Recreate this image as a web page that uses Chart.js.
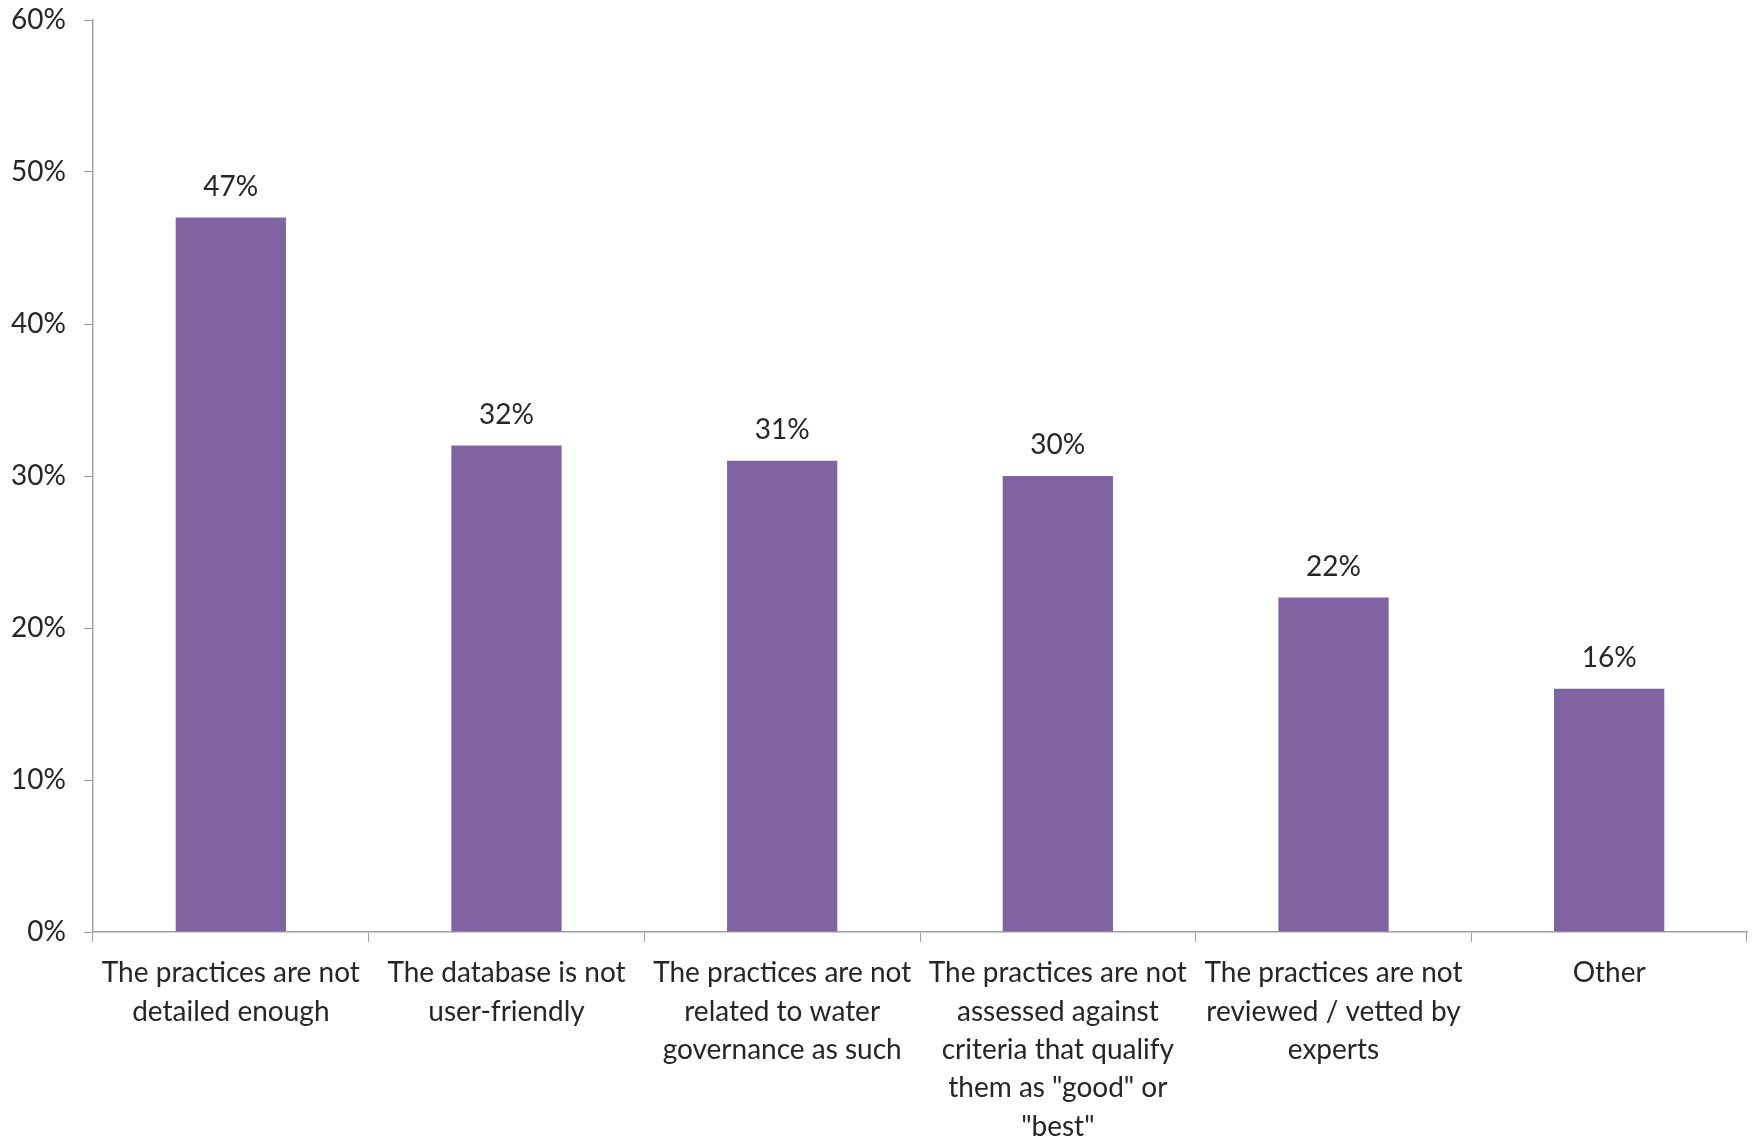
<!DOCTYPE html>
<html>
<head>
<meta charset="utf-8">
<script src="https://cdn.jsdelivr.net/npm/chart.js@4.4.1/dist/chart.umd.min.js"></script>
<style>
    html, body { margin: 0; padding: 0; background: #fff; }
    #wrap { width: 1752px; height: 1138px; }
</style>
</head>
<body>
<div id="wrap"><canvas id="chart" width="1752" height="1138"></canvas></div>
<script>
// Reasons respondents gave (multi-line labels as in the original)
const categories = [
    ['The practices are not', 'detailed enough'],
    ['The database is not', 'user-friendly'],
    ['The practices are not', 'related to water', 'governance as such'],
    ['The practices are not', 'assessed against', 'criteria that qualify', 'them as "good" or', '"best"'],
    ['The practices are not', 'reviewed / vetted by', 'experts'],
    ['Other']
];
const shares = [47, 32, 31, 30, 22, 16];
const yTicks = [0, 10, 20, 30, 40, 50, 60];

const FONT = 'Lato, "Open Sans", sans-serif';
const TEXT = '#262626';
const AXIS = '#a0a0a0';

// draws the value above each bar
const valueLabels = {
    id: 'valueLabels',
    afterDatasetsDraw(chart) {
        const ctx = chart.ctx;
        const meta = chart.getDatasetMeta(0);
        ctx.save();
        ctx.font = '28px ' + FONT;
        ctx.fillStyle = TEXT;
        ctx.textAlign = 'center';
        ctx.textBaseline = 'middle';
        meta.data.forEach((bar, i) => {
            ctx.fillText(shares[i] + '%', bar.x, bar.y - 31);
        });
        ctx.restore();
    }
};

new Chart(document.getElementById('chart'), {
    type: 'bar',
    data: {
        labels: categories,
        datasets: [{
            data: shares,
            backgroundColor: '#8064a2',
            borderWidth: 0,
            categoryPercentage: 1,
            barPercentage: 0.4
        }]
    },
    options: {
        responsive: false,
        animation: false,
        layout: { padding: { top: 20, right: 5, left: 0, bottom: 0 } },
        plugins: {
            legend: { display: false },
            tooltip: { enabled: false }
        },
        scales: {
            x: {
                offset: true,
                grid: {
                    offset: true,
                    drawOnChartArea: false,
                    color: AXIS,
                    tickLength: 10
                },
                border: { color: AXIS, width: 1.5 },
                ticks: {
                    autoSkip: false,
                    maxRotation: 0,
                    padding: 12,
                    color: TEXT,
                    font: { family: FONT, size: 28, lineHeight: 1.37 }
                },
                afterFit(s) { s.height = 206; }
            },
            y: {
                min: 0,
                max: 60,
                afterBuildTicks(s) { s.ticks = yTicks.map(v => ({ value: v })); },
                grid: {
                    drawOnChartArea: false,
                    color: AXIS,
                    tickLength: 9
                },
                border: { color: AXIS, width: 1.5 },
                ticks: {
                    padding: 18,
                    color: TEXT,
                    font: { family: FONT, size: 28 },
                    callback: v => v + '%'
                },
                afterFit(s) {
                    s.width = 93;
                    s.paddingTop = 0;
                    s.paddingBottom = 0;
                }
            }
        }
    },
    plugins: [valueLabels]
});
</script>
</body>
</html>
